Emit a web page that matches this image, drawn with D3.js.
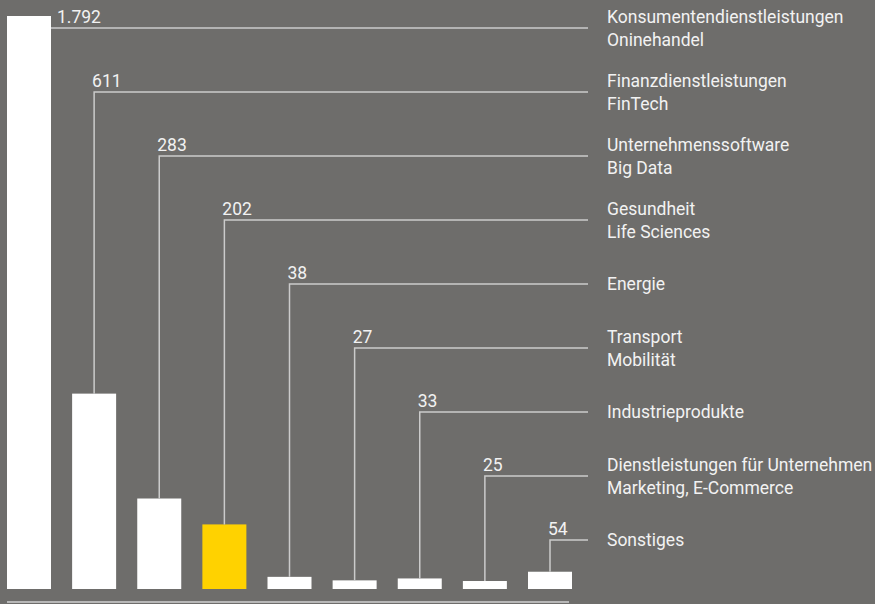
<!DOCTYPE html>
<html>
<head>
<meta charset="utf-8">
<script src="https://cdn.jsdelivr.net/npm/d3@7/dist/d3.min.js"></script>
<style>
  html, body { margin: 0; padding: 0; background: #6e6d6b; }
  svg { display: block; }
  text { font-family: Roboto, "Open Sans", sans-serif; fill: #f2f2f2; }
</style>
</head>
<body>
<svg id="chart" width="875" height="604"></svg>
<script>
// Number of start-ups per sector
const values = [1792, 611, 283, 202, 38, 27, 33, 25, 54];
const valueLabels = ["1.792", "611", "283", "202", "38", "27", "33", "25", "54"];
const sectorLines = [
  ["Konsumentendienstleistungen", "Oninehandel"],
  ["Finanzdienstleistungen", "FinTech"],
  ["Unternehmenssoftware", "Big Data"],
  ["Gesundheit", "Life Sciences"],
  ["Energie"],
  ["Transport", "Mobilität"],
  ["Industrieprodukte"],
  ["Dienstleistungen für Unternehmen", "Marketing, E-Commerce"],
  ["Sonstiges"]
];
const highlightIndex = 3;

const W = 875, H = 604;
const baseY = 589;
const fontSize = 17.5;

const svg = d3.select("#chart");
svg.append("rect").attr("width", W).attr("height", H).attr("fill", "#6e6d6b");

const idx = d3.range(values.length);

const x = d3.scaleBand()
  .domain(idx)
  .range([7, 572])
  .paddingInner(0.3244)
  .paddingOuter(0);

const y = d3.scaleLinear()
  .domain([0, d3.max(values)])
  .range([baseY, 16]);

// vertical position of each leader line / legend row
const row = d3.scalePoint()
  .domain(idx)
  .range([28, 540]);

const lineEnd = 588;
const labelX = 607;

// bars
svg.append("g").selectAll("rect")
  .data(idx)
  .join("rect")
  .attr("x", i => x(i))
  .attr("y", i => y(values[i]))
  .attr("width", x.bandwidth())
  .attr("height", i => baseY - y(values[i]))
  .attr("fill", i => i === highlightIndex ? "#ffd200" : "#ffffff");

// leader lines from each bar to its legend row
svg.append("g").selectAll("path")
  .data(idx)
  .join("path")
  .attr("fill", "none")
  .attr("stroke", "#cbcbcb")
  .attr("stroke-width", 1.5)
  .attr("d", i => {
    const ly = row(i);
    const top = y(values[i]);
    if (top < ly) {
      return `M${x(i) + x.bandwidth()},${ly}H${lineEnd}`;
    }
    const cx = x(i) + x.bandwidth() / 2;
    return `M${cx},${top}V${ly}H${lineEnd}`;
  });

// value labels above leader lines
svg.append("g").selectAll("text")
  .data(idx)
  .join("text")
  .attr("x", i => y(values[i]) < row(i)
    ? x(i) + x.bandwidth() + 6
    : x(i) + x.bandwidth() / 2 - 2)
  .attr("y", i => row(i) - 5)
  .attr("font-size", fontSize)
  .text(i => valueLabels[i]);

// sector names
const legend = svg.append("g").selectAll("text")
  .data(idx)
  .join("text")
  .attr("x", labelX)
  .attr("font-size", fontSize);

legend.each(function(i) {
  const lines = sectorLines[i];
  const ly = row(i);
  const t = d3.select(this);
  if (lines.length === 1) {
    t.append("tspan").attr("x", labelX).attr("y", ly + 6).text(lines[0]);
  } else {
    t.append("tspan").attr("x", labelX).attr("y", ly - 5).text(lines[0]);
    t.append("tspan").attr("x", labelX).attr("y", ly + 18).text(lines[1]);
  }
});

// baseline
svg.append("line")
  .attr("x1", 7).attr("x2", 569)
  .attr("y1", 602).attr("y2", 602)
  .attr("stroke", "#d0d0d0")
  .attr("stroke-width", 1.5);
</script>
</body>
</html>
